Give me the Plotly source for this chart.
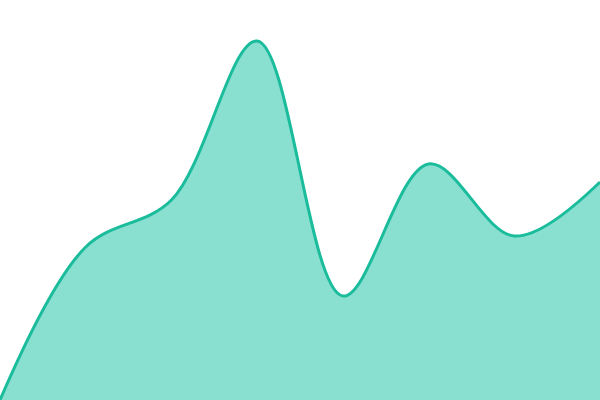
import plotly.graph_objects as go

x_values = [0, 1, 2, 3, 4, 5, 6, 7]
y_values = [0, 153, 200, 359, 104, 236, 164, 218]

fig = go.Figure(
    go.Scatter(
        x=x_values,
        y=y_values,
        mode="lines",
        line={"color": "#1abc9c", "width": 3, "shape": "spline", "smoothing": 1},
        fill="tozeroy",
        fillcolor="#8ae0d0",
        hoverinfo="skip",
    )
)
fig.update_layout(
    width=600,
    height=400,
    margin={"l": 0, "r": 0, "t": 0, "b": 0},
    paper_bgcolor="white",
    plot_bgcolor="white",
    showlegend=False,
    xaxis={"range": [0, 7], "visible": False, "fixedrange": True},
    yaxis={"range": [0, 400], "visible": False, "fixedrange": True},
)
# drop the default body margin so the chart fills the window
fig.write_html(
    "out.html",
    config={"displayModeBar": False},
    post_script="document.body.style.margin='0';document.body.style.overflow='hidden';",
)
